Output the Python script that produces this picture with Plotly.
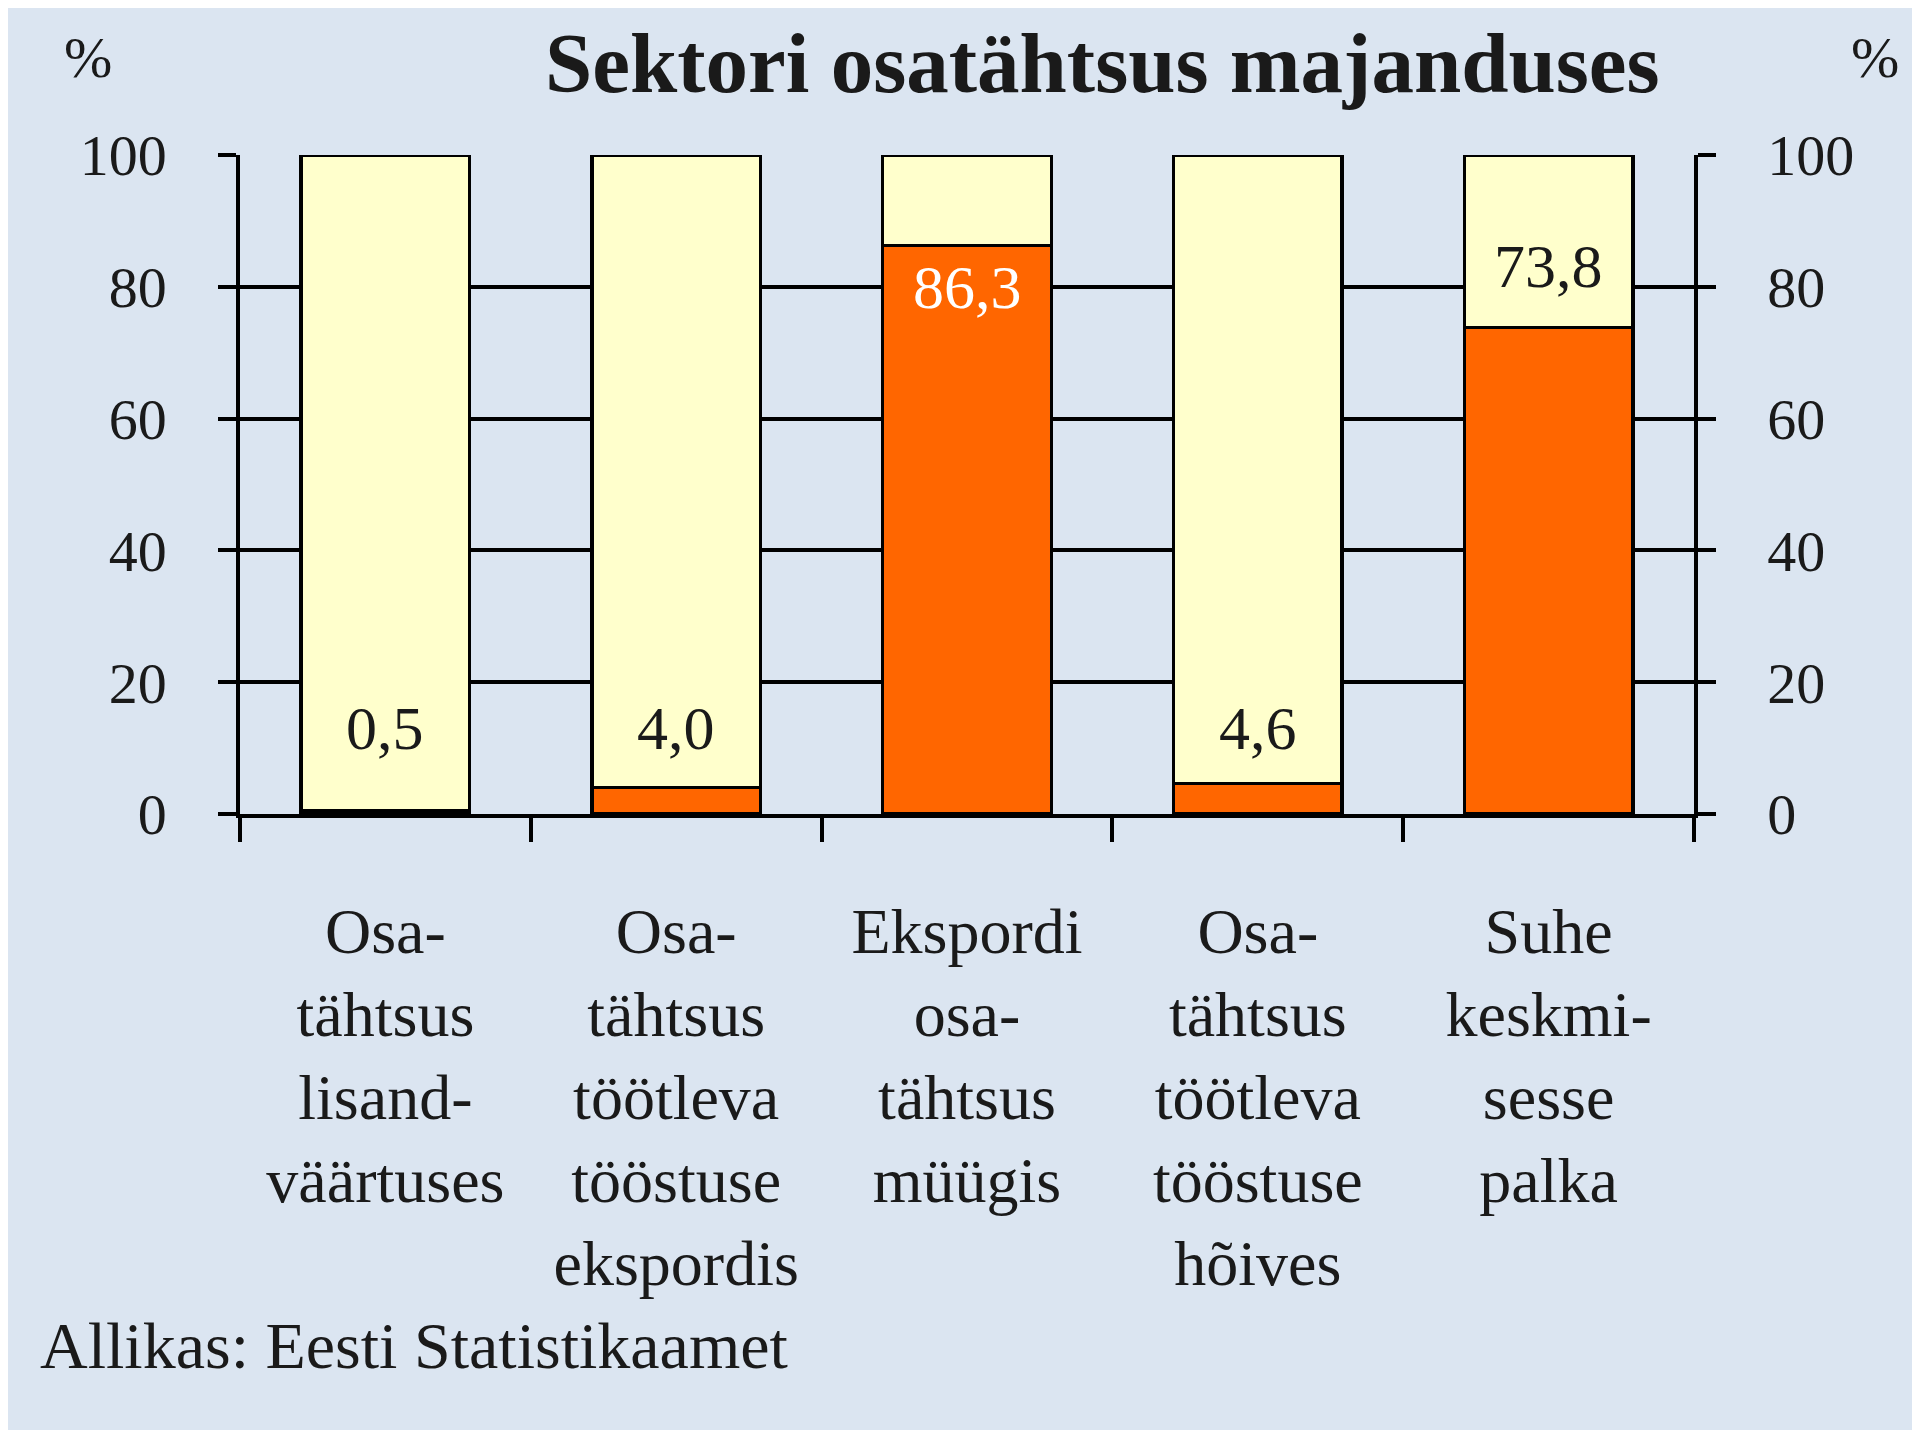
import plotly.graph_objects as go

categories = [
    "Osa-<br>tähtsus<br>lisand-<br>väärtuses",
    "Osa-<br>tähtsus<br>töötleva<br>tööstuse<br>ekspordis",
    "Ekspordi<br>osa-<br>tähtsus<br>müügis",
    "Osa-<br>tähtsus<br>töötleva<br>tööstuse<br>hõives",
    "Suhe<br>keskmi-<br>sesse<br>palka",
]
share = [0.5, 4.0, 86.3, 4.6, 73.8]
labels = ["0,5", "4,0", "86,3", "4,6", "73,8"]
rest = [100 - v for v in share]
yticks = [0, 20, 40, 60, 80, 100]

FONT = "Liberation Serif"
BG = "#dbe5f1"
ORANGE = "#ff6600"
YELLOW = "#ffffcc"
TXT = "#1a1a1a"

fig = go.Figure()
fig.add_trace(go.Bar(x=categories, y=share, marker=dict(color=ORANGE, line=dict(color="black", width=3.5)),
                     width=0.58, showlegend=False, hoverinfo="skip"))
fig.add_trace(go.Bar(x=categories, y=rest, marker=dict(color=YELLOW, line=dict(color="black", width=3.5)),
                     width=0.58, showlegend=False, hoverinfo="skip"))
# invisible trace for right axis
fig.add_trace(go.Scatter(x=[categories[0]], y=[0], yaxis="y2", mode="markers",
                         marker=dict(opacity=0), showlegend=False, hoverinfo="skip"))

for c, v, t in zip(categories, share, labels):
    if v < 50:
        fig.add_annotation(x=c, y=13, text=t, showarrow=False, yanchor="middle",
                           font=dict(family=FONT, size=62, color=TXT))
    elif v > 80:
        fig.add_annotation(x=c, y=v, text=t, showarrow=False, yanchor="top", yshift=-6,
                           font=dict(family=FONT, size=62, color="white"))
    else:
        fig.add_annotation(x=c, y=v, text=t, showarrow=False, yanchor="bottom", yshift=26,
                           font=dict(family=FONT, size=62, color=TXT))

fig.add_annotation(text="<b>Sektori osatähtsus majanduses</b>", xref="paper", yref="paper",
                   x=0.593, y=1.0, xanchor="center", yanchor="middle", yshift=92, showarrow=False,
                   font=dict(family=FONT, size=85, color=TXT))
fig.add_annotation(text="%", xref="paper", yref="paper", x=-0.1045, y=1.0, yshift=98,
                   xanchor="center", yanchor="middle", showarrow=False,
                   font=dict(family=FONT, size=58, color=TXT))
fig.add_annotation(text="%", xref="paper", yref="paper", x=1.1245, y=1.0, yshift=98,
                   xanchor="center", yanchor="middle", showarrow=False,
                   font=dict(family=FONT, size=58, color=TXT))
fig.add_annotation(text="Allikas: Eesti Statistikaamet", xref="paper", yref="paper",
                   x=-0.139, y=0, yshift=-531, xanchor="left", yanchor="middle", showarrow=False,
                   font=dict(family=FONT, size=66, color=TXT))

yax = dict(range=[0, 100], tickvals=yticks, showgrid=True, gridcolor="black", gridwidth=3.5,
           ticks="outside", ticklen=18, tickwidth=3.5, tickcolor="black",
           showline=True, linecolor="black", linewidth=3.5, zeroline=False,
           ticklabelstandoff=40,
           tickfont=dict(family=FONT, size=58, color=TXT), fixedrange=True)

fig.update_layout(
    width=1920, height=1430,
    paper_bgcolor=BG, plot_bgcolor=BG,
    barmode="stack", bargap=0.42,
    margin=dict(l=232, r=234, t=147, b=624),
    xaxis=dict(type="category", tickson="boundaries", ticks="outside", ticklen=24, tickwidth=3.5,
               tickcolor="black", showline=True, linecolor="black", linewidth=3.5,
               tickfont=dict(family=FONT, size=64, color=TXT), ticklabelstandoff=58,
               range=[-0.5, 4.5], showgrid=False),
    yaxis=yax,
    yaxis2=dict(yax, overlaying="y", side="right", showgrid=False),
)

fig.write_html("out.html")
